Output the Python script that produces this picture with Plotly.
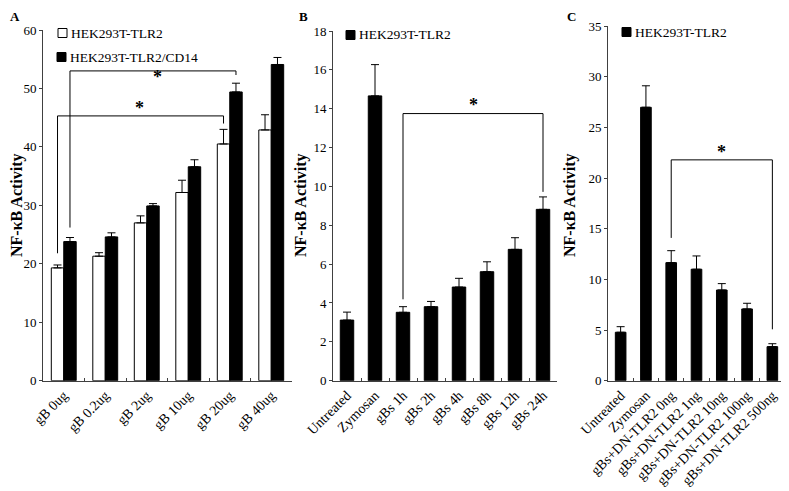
import plotly.graph_objects as go

# ---------------- data ----------------
a_cats = ["gB 0ug", "gB 0.2ug", "gB 2ug", "gB 10ug", "gB 20ug", "gB 40ug"]
a_tlr2 = [19.3, 21.3, 27.0, 32.2, 40.5, 42.9]
a_tlr2_err = [0.5, 0.6, 1.2, 2.1, 2.5, 2.6]
a_cd14 = [23.8, 24.6, 29.9, 36.6, 49.4, 54.1]
a_cd14_err = [0.7, 0.7, 0.4, 1.2, 1.5, 1.2]

b_cats = ["Untreated", "Zymosan", "gBs 1h", "gBs 2h", "gBs 4h", "gBs 8h", "gBs 12h", "gBs 24h"]
b_vals = [3.12, 14.66, 3.52, 3.81, 4.82, 5.61, 6.76, 8.82]
b_err = [0.41, 1.61, 0.29, 0.27, 0.45, 0.51, 0.60, 0.64]

c_cats = ["Untreated", "Zymosan", "gBs+DN-TLR2 0ng", "gBs+DN-TLR2 1ng",
          "gBs+DN-TLR2 10ng", "gBs+DN-TLR2 100ng", "gBs+DN-TLR2 500ng"]
c_vals = [4.78, 26.98, 11.65, 11.00, 8.95, 7.08, 3.36]
c_err = [0.55, 2.12, 1.18, 1.31, 0.63, 0.56, 0.29]

# significance brackets: (axis, x_left, y_left_bottom, x_right, y_right_bottom, y_top, star_x, star_y)
brackets = [
    ("1", -0.15, 21.8, 3.85, 44.0, 45.3, 1.82, 46.6),
    ("1", 0.15, 26.2, 4.15, 52.3, 53.0, 2.25, 51.9),
    ("2", 2.0, 4.19, 7.0, 9.72, 13.75, 4.5, 14.2),
    ("3", 2.0, 14.09, 6.0, 5.07, 21.79, 4.0, 22.6),
]

W, H = 789, 491
SERIF = "Liberation Serif"
AXC = "#404040"
PAGE_OFFSET = 8  # the html body margin shifts the figure by this many pixels


def px(x):
    return (x - PAGE_OFFSET) / W


def py(y):
    return 1 - (y - PAGE_OFFSET) / H


fig = go.Figure()

errstyle = dict(type="data", symmetric=False, color="black", thickness=1, width=4)

fig.add_trace(go.Bar(
    x=a_cats, y=a_tlr2, name="HEK293T-TLR2", width=0.3, offset=-0.3,
    marker=dict(color="white", line=dict(color="black", width=1)),
    error_y=dict(array=a_tlr2_err, arrayminus=[0] * len(a_tlr2_err), **errstyle),
    xaxis="x", yaxis="y", showlegend=False))
fig.add_trace(go.Bar(
    x=a_cats, y=a_cd14, name="HEK293T-TLR2/CD14", width=0.3, offset=0,
    marker=dict(color="black", line=dict(color="black", width=1)),
    error_y=dict(array=a_cd14_err, arrayminus=[0] * len(a_cd14_err), **errstyle),
    xaxis="x", yaxis="y", showlegend=False))
fig.add_trace(go.Bar(
    x=b_cats, y=b_vals, name="HEK293T-TLR2", width=0.48,
    marker=dict(color="black", line=dict(color="black", width=1)),
    error_y=dict(array=b_err, arrayminus=[0] * len(b_err), **errstyle),
    xaxis="x2", yaxis="y2", showlegend=False))
fig.add_trace(go.Bar(
    x=c_cats, y=c_vals, name="HEK293T-TLR2", width=0.42,
    marker=dict(color="black", line=dict(color="black", width=1)),
    error_y=dict(array=c_err, arrayminus=[0] * len(c_err), **errstyle),
    xaxis="x3", yaxis="y3", showlegend=False))

shapes = []
annotations = []
for ax, xl, yl, xr, yr, yt, sx, sy in brackets:
    xref = "x" if ax == "1" else "x" + ax
    yref = "y" if ax == "1" else "y" + ax
    ln = dict(color="black", width=1)
    shapes.append(dict(type="line", xref=xref, yref=yref, x0=xl, x1=xl, y0=yl, y1=yt, line=ln))
    shapes.append(dict(type="line", xref=xref, yref=yref, x0=xl, x1=xr, y0=yt, y1=yt, line=ln))
    shapes.append(dict(type="line", xref=xref, yref=yref, x0=xr, x1=xr, y0=yr, y1=yt, line=ln))
    annotations.append(dict(xref=xref, yref=yref, x=sx, y=sy, text="<b>*</b>", showarrow=False,
                            font=dict(family=SERIF, size=18, color="black"), yanchor="middle"))

# panel letters (top-anchored at the top edge of the figure)
for letter, x in [("A", 15), ("B", 303), ("C", 571)]:
    annotations.append(dict(xref="paper", yref="paper", x=px(x), y=1.0, text="<b>%s</b>" % letter,
                            showarrow=False, font=dict(family=SERIF, size=13, color="black"),
                            xanchor="center", yanchor="top", borderpad=0))

# y-axis titles
for x in [17, 301, 570]:
    annotations.append(dict(xref="paper", yref="paper", x=px(x), y=py(205), text="<b>NF-κB Activity</b>",
                            textangle=-90, showarrow=False, font=dict(family=SERIF, size=16, color="black"),
                            xanchor="center", yanchor="middle", borderpad=0))

# legends: (label, fill, box left px, row centre px)
legend_items = [
    ("HEK293T-TLR2", "white", 58, 33),
    ("HEK293T-TLR2/CD14", "black", 57, 57),
    ("HEK293T-TLR2", "black", 346, 35),
    ("HEK293T-TLR2", "black", 622, 32),
]
for txt, fill, x, y in legend_items:
    shapes.append(dict(type="rect", xref="paper", yref="paper", x0=px(x), x1=px(x + 9),
                       y0=py(y + 4.5), y1=py(y - 4.5), fillcolor=fill, line=dict(color="black", width=1)))
    annotations.append(dict(xref="paper", yref="paper", x=px(x + 11), y=py(y), text=txt, showarrow=False,
                            font=dict(family=SERIF, size=13.5, color="black"), xanchor="left", yanchor="middle"))

ybot = py(380.7)
xcommon = dict(type="category", showline=True, linecolor=AXC, linewidth=1, ticks="inside", ticklen=3,
               tickcolor=AXC, tickson="boundaries", tickangle=-45, showgrid=False, zeroline=False,
               tickfont=dict(family=SERIF, size=14, color="black"), fixedrange=True, automargin=False)
ycommon = dict(showline=True, linecolor=AXC, linewidth=1, ticks="outside", ticklen=3, tickcolor=AXC,
               showgrid=False, zeroline=False, tickfont=dict(family=SERIF, size=13, color="black"),
               fixedrange=True, automargin=False)

fig.update_layout(
    width=W, height=H, margin=dict(l=0, r=0, t=0, b=0, autoexpand=False),
    paper_bgcolor="white", plot_bgcolor="white", barmode="overlay", showlegend=False,
    xaxis=dict(domain=[px(43), px(292)], anchor="y", **xcommon),
    yaxis=dict(domain=[ybot, py(30)], range=[0, 60], dtick=10, anchor="x", **ycommon),
    xaxis2=dict(domain=[px(333), px(557)], anchor="y2", **xcommon),
    yaxis2=dict(domain=[ybot, py(31)], range=[0, 18], dtick=2, anchor="x2", **ycommon),
    xaxis3=dict(domain=[px(608), px(785)], anchor="y3", **xcommon),
    yaxis3=dict(domain=[ybot, py(26)], range=[0, 35], dtick=5, anchor="x3", **ycommon),
    shapes=shapes, annotations=annotations,
)

fig.write_html("out.html")
